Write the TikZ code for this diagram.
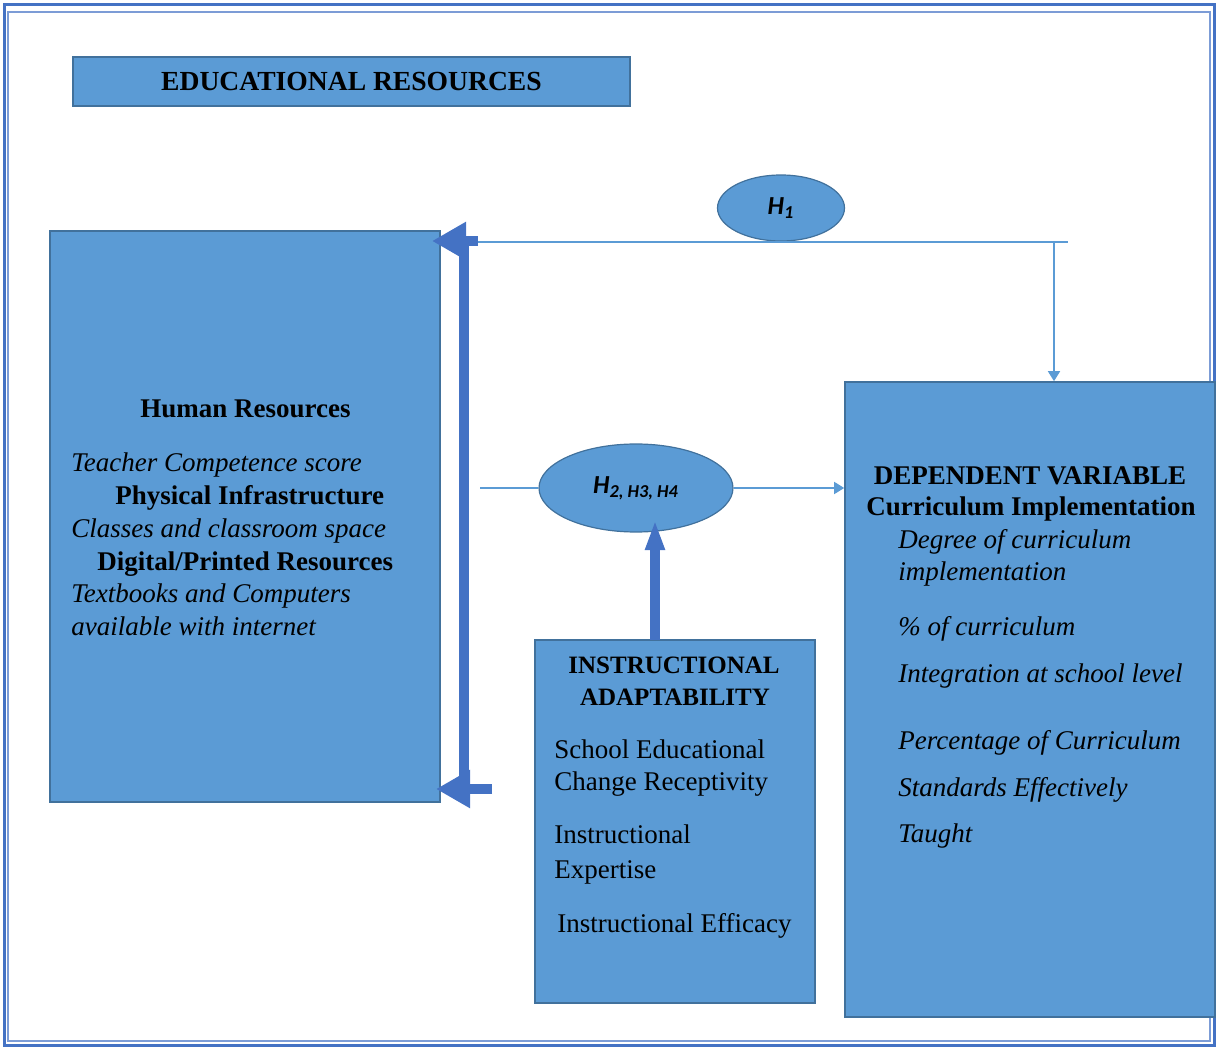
\documentclass[tikz,border=0pt]{standalone}
\usepackage{fontspec}
\setmainfont{Liberation Serif}
\newfontfamily\hfont{Carlito}
\usetikzlibrary{arrows.meta,shapes.geometric}

\definecolor{boxblue}{HTML}{5B9BD5}
\definecolor{boxedge}{HTML}{41719C}
\definecolor{darkblue}{HTML}{4472C4}

\tikzset{
    box/.style={draw=boxedge, fill=boxblue, line width=0.8pt, inner sep=0pt},
    hyp/.style={ellipse, draw=boxedge, fill=boxblue, line width=0.6pt, inner sep=0pt,
            font=\hfont\bfseries\itshape\fontsize{13}{15}\selectfont},
    link/.style={draw=boxblue, line width=0.8pt},
    fat/.style={draw=darkblue, line width=5pt},
    txt/.style={anchor=base west, inner sep=0pt, font=\fontsize{13.5}{16}\selectfont},
    head/.style={anchor=base, inner sep=0pt, font=\bfseries\fontsize{13.5}{16}\selectfont}
}

\begin{document}
\begin{tikzpicture}[x=0.5pt, y=-0.5pt]
        \useasboundingbox (0,0) rectangle (1217,1048);
        % double frame
        \draw[darkblue, line width=1.5pt] (4,5) rectangle (1214,1045);
        \draw[darkblue!70, line width=0.6pt] (8,12) rectangle (1210,1041);

        % boxes
        \node[box, minimum width=278.5pt, minimum height=24.5pt, font=\bfseries\fontsize{13.8}{15}\selectfont] (edu) at (351.5,81.5) {EDUCATIONAL RESOURCES};
        \node[box, minimum width=195pt, minimum height=285.5pt] (hr) at (245,516.5) {};
        \node[box, minimum width=185pt, minimum height=317.5pt] (depvar) at (1030,699.5) {};
        \node[box, minimum width=140pt, minimum height=181.5pt] (instr) at (675,821.5) {};

        % hypotheses
        \node[hyp, minimum width=63.5pt, minimum height=33pt] (hone) at (781,208) {H\textsubscript{1}};
        \node[hyp, minimum width=97pt, minimum height=44pt] (htwo) at (636,488) {H\textsubscript{2, H3, H4}};

        % left box text
        \node[head, anchor=base west] (hrA) at (140,418) {Human Resources};
        \node[txt] (hrB) at (71,472) {\itshape Teacher Competence score};
        \node[head, anchor=base west] (hrC) at (115,505) {Physical Infrastructure};
        \node[txt] (hrD) at (71,538) {\itshape Classes and classroom space};
        \node[head, anchor=base west] (hrE) at (97,570) {Digital/Printed Resources};
        \node[txt] (hrF) at (71,603) {\itshape Textbooks and Computers};
        \node[txt] (hrG) at (71,635) {\itshape available with internet};

        % right box text
        \node[head] (dvA) at (1030,485) {DEPENDENT VARIABLE};
        \node[head] (dvB) at (1031,516) {Curriculum Implementation};
        \node[txt] (dvC) at (898,548) {\itshape Degree of curriculum};
        \node[txt] (dvD) at (898,581) {\itshape implementation};
        \node[txt] (dvE) at (898,635) {\itshape \% of curriculum};
        \node[txt] (dvF) at (898,682) {\itshape Integration at school level};
        \node[txt] (dvG) at (898,749) {\itshape Percentage of Curriculum};
        \node[txt] (dvH) at (898,796) {\itshape Standards Effectively};
        \node[txt] (dvI) at (898,842) {\itshape Taught};

        % moderator box text
        \node[head, font=\bfseries\fontsize{12.5}{15}\selectfont] (iaA) at (674,673) {INSTRUCTIONAL};
        \node[head, font=\bfseries\fontsize{12.5}{15}\selectfont] (iaB) at (675,705) {ADAPTABILITY};
        \node[txt] (iaC) at (554,758) {School Educational};
        \node[txt] (iaD) at (554,790) {Change Receptivity};
        \node[txt] (iaE) at (554,843) {Instructional};
        \node[txt] (iaF) at (554,878) {Expertise};
        \node[txt] (iaG) at (557,932) {Instructional Efficacy};

        % thick double arrow
        \coordinate (spinetop) at (464,236);
        \coordinate (spinebot) at (464,794);
        \coordinate (topstub) at (478,241);
        \coordinate (toptip) at (432,241);
        \coordinate (botstub) at (492,789);
        \coordinate (bottip) at (436,789);
        \draw[fat] (spinetop) -- (spinebot);
        \draw[fat, -{Triangle[length=17pt, width=18pt]}] (topstub) -- (toptip);
        \draw[fat, -{Triangle[length=17pt, width=18pt]}] (botstub) -- (bottip);

        % H1 path
        \coordinate (hlineend) at (1068,242);
        \coordinate (drop) at (1054,242);
        \draw[link] (topstub |- hlineend) -- (hlineend);
        \draw[link, -{Triangle[length=5pt, width=6pt]}] (drop) -- (drop |- depvar.north);

        % H2-H4 path
        \coordinate (feed) at (480,488);
        \draw[link] (feed) -- (htwo.west);
        \draw[link, -{Triangle[length=5pt, width=6pt]}] (htwo.east) -- (htwo.east -| depvar.west);

        % moderator arrow
        \coordinate (lift) at (655,640);
        \coordinate (lifttip) at (655,520);
        \draw[fat, -{Triangle[length=15pt, width=9pt]}] (lift) -- (lifttip);
    \end{tikzpicture}
\end{document}
